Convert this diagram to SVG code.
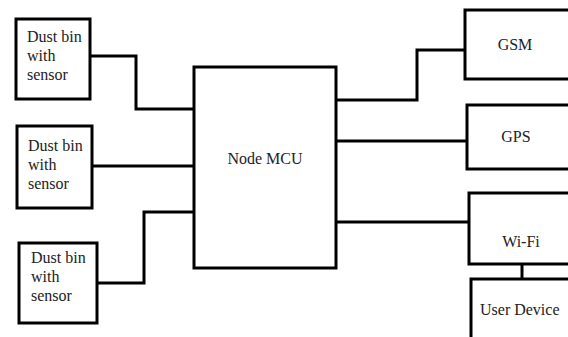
<svg xmlns="http://www.w3.org/2000/svg" width="568" height="337" viewBox="0 0 568 337">
<style>
.box{fill:#fff;stroke:#000;stroke-width:3}
.wire{fill:none;stroke:#000;stroke-width:3}
text{font-family:"Liberation Serif","Times New Roman",serif;font-size:16px;fill:#222}
.c{text-anchor:middle}
</style>
<rect width="568" height="337" fill="#fff"/>
<g id="connectors">
<polyline class="wire" points="90,56 136,56 136,109 194,109"/>
<polyline class="wire" points="92,166 194,166"/>
<polyline class="wire" points="97,283 144,283 144,212 194,212"/>
<polyline class="wire" points="336,100 417,100 417,50 465,50"/>
<polyline class="wire" points="336,141 467,141"/>
<polyline class="wire" points="336,222 469,222"/>
<polyline class="wire" points="522,264 522,279"/>
</g>
<g id="bin1">
<rect class="box" x="16" y="19" width="74" height="80"/>
<text x="27" y="42">Dust bin</text>
<text x="27" y="61">with</text>
<text x="27" y="80">sensor</text>
</g>
<g id="bin2">
<rect class="box" x="17" y="126" width="75" height="82"/>
<text x="28" y="151">Dust bin</text>
<text x="28" y="170">with</text>
<text x="28" y="189">sensor</text>
</g>
<g id="bin3">
<rect class="box" x="19" y="243" width="78" height="80"/>
<text x="31" y="263">Dust bin</text>
<text x="31" y="282">with</text>
<text x="31" y="301">sensor</text>
</g>
<g id="mcu">
<rect class="box" x="194" y="67" width="142" height="201"/>
<text class="c" x="265" y="164">Node MCU</text>
</g>
<g id="gsm">
<rect class="box" x="465" y="10" width="120" height="69"/>
<text class="c" x="515" y="50">GSM</text>
</g>
<g id="gps">
<rect class="box" x="467" y="105" width="120" height="64"/>
<text class="c" x="516" y="142">GPS</text>
</g>
<g id="wifi">
<rect class="box" x="469" y="193" width="120" height="71"/>
<text class="c" x="521" y="247">Wi-Fi</text>
</g>
<g id="user">
<rect class="box" x="471" y="279" width="120" height="80"/>
<text x="480" y="315">User Device</text>
</g>
</svg>
